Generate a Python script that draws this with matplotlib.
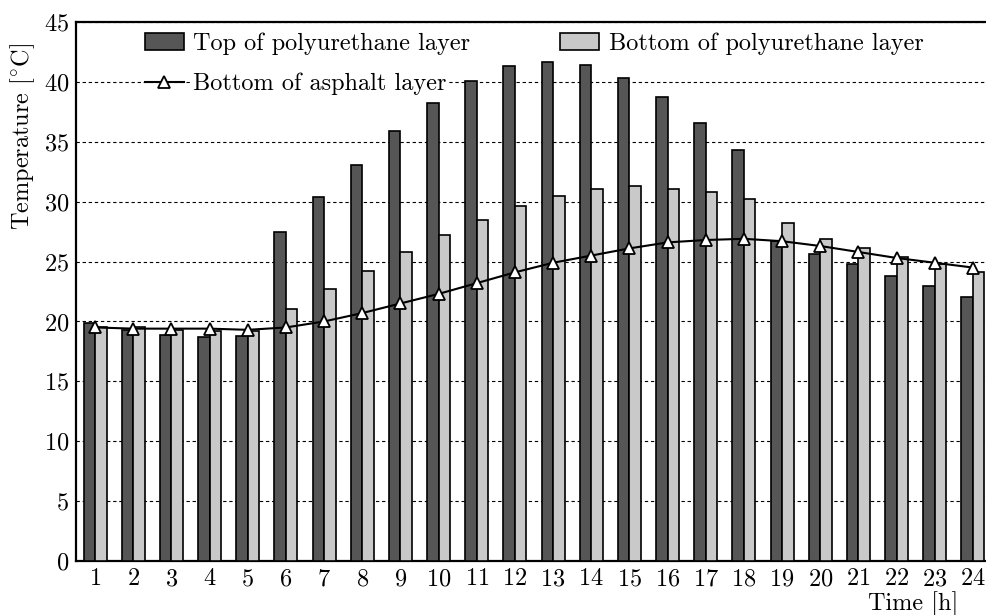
import numpy as np
import matplotlib
matplotlib.use("Agg")
import matplotlib.pyplot as plt

hours = np.arange(1, 25)
top_pu = [19.9, 19.3, 18.9, 18.7, 18.8, 27.5, 30.4, 33.1, 35.9, 38.2, 40.1, 41.3,
          41.7, 41.4, 40.3, 38.7, 36.6, 34.3, 26.7, 25.6, 24.8, 23.8, 23.0, 22.0]
bottom_pu = [19.5, 19.5, 19.3, 19.2, 19.2, 21.0, 22.7, 24.2, 25.8, 27.2, 28.5, 29.6,
             30.5, 31.1, 31.3, 31.1, 30.8, 30.2, 28.2, 26.9, 26.1, 25.4, 24.8, 24.1]
asphalt = [19.5, 19.4, 19.4, 19.4, 19.3, 19.5, 20.0, 20.7, 21.5, 22.3, 23.2, 24.1,
           24.9, 25.5, 26.1, 26.6, 26.8, 26.9, 26.7, 26.3, 25.8, 25.3, 24.9, 24.5]

plt.rcParams["font.family"] = "serif"
plt.rcParams["font.serif"] = ["cmr10"]
plt.rcParams["mathtext.fontset"] = "cm"
plt.rcParams["axes.formatter.use_mathtext"] = True
plt.rcParams["font.size"] = 17.5

fig = plt.figure(figsize=(9.86, 6.15), dpi=100)
ax = fig.add_axes([0.0771, 0.0878, 0.929, 0.8764])

w = 0.3
b1 = ax.bar(hours - w / 2, top_pu, w, color="#565656", edgecolor="black",
            linewidth=1.2, zorder=3, label="Top of polyurethane layer")
b2 = ax.bar(hours + w / 2, bottom_pu, w, color="#c9c9c9", edgecolor="black",
            linewidth=1.2, zorder=3, label="Bottom of polyurethane layer")
ln, = ax.plot(hours, asphalt, color="black", lw=1.5, marker="^", ms=9,
              mfc="white", mec="black", mew=1.3, zorder=4,
              label="Bottom of asphalt layer")

ax.set_xlim(0.5, 24.5)
ax.set_ylim(0, 45)
ax.set_xticks(hours)
ax.set_yticks(np.arange(0, 46, 5))
ax.tick_params(length=0, pad=5)
ax.yaxis.grid(True, color="black", linestyle=(0, (3, 2.5)), linewidth=0.8, zorder=0)
ax.set_axisbelow(True)
for s in ax.spines.values():
    s.set_linewidth(1.6)

ax.set_ylabel(r"Temperature [$^{\circ}$C]")
ax.yaxis.set_label_coords(-0.043, 0.787)
ax.set_xlabel("Time [h]")
ax.xaxis.set_label_coords(0.914, -0.056)

leg = ax.legend([b1, ln, b2], [b1.get_label(), ln.get_label(), b2.get_label()],
                ncol=2, loc="upper left", bbox_to_anchor=(0.075, 0.98),
                frameon=False, borderpad=0, borderaxespad=0, handlelength=1.6,
                handletextpad=0.4, columnspacing=3.7, labelspacing=0.72)
for t in leg.get_texts():
    t.set_bbox(dict(facecolor="white", edgecolor="none", pad=1))

fig.savefig("out.png", dpi=100)
